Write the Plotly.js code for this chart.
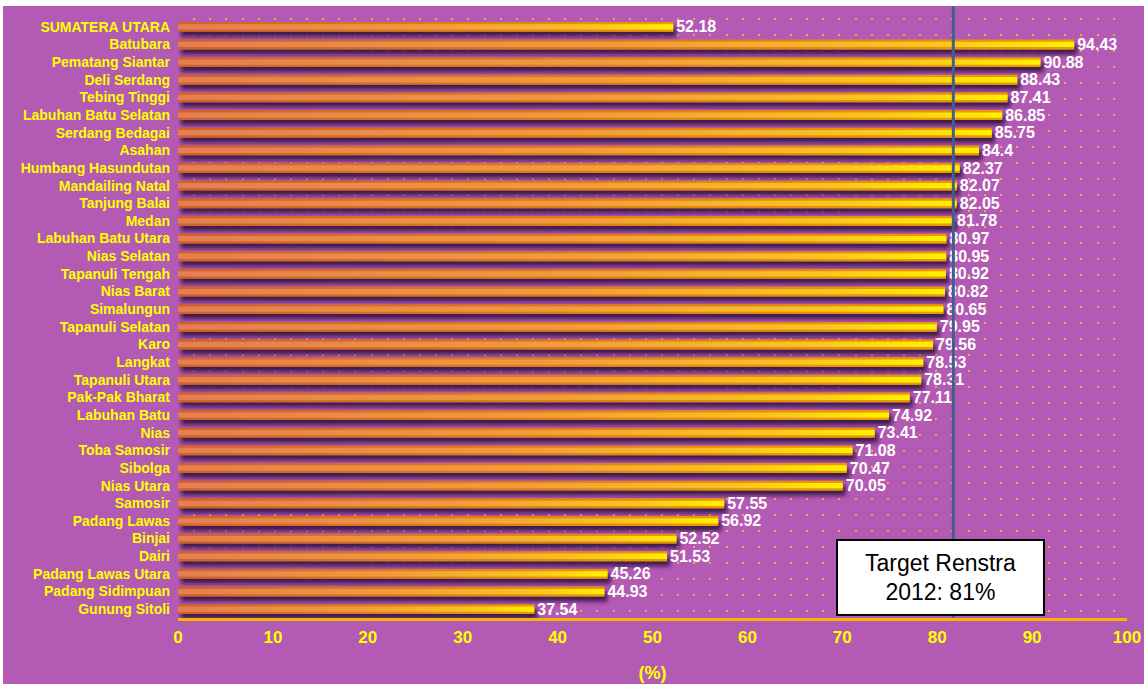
<!DOCTYPE html>
<html>
<head>
<meta charset="utf-8">
<script src="https://cdn.plot.ly/plotly-3.0.1.min.js"></script>
<style>
  html, body { margin:0; padding:0; background:#ffffff; }
  #chart { position:absolute; left:3px; top:6px; width:1141px; height:678px; }
</style>
</head>
<body>
<div id="chart"></div>
<script>
const categories = [
  "SUMATERA UTARA","Batubara","Pematang Siantar","Deli Serdang","Tebing Tinggi",
  "Labuhan Batu Selatan","Serdang Bedagai","Asahan","Humbang Hasundutan","Mandailing Natal",
  "Tanjung Balai","Medan","Labuhan Batu Utara","Nias Selatan","Tapanuli Tengah",
  "Nias Barat","Simalungun","Tapanuli Selatan","Karo","Langkat",
  "Tapanuli Utara","Pak-Pak Bharat","Labuhan Batu","Nias","Toba Samosir",
  "Sibolga","Nias Utara","Samosir","Padang Lawas","Binjai",
  "Dairi","Padang Lawas Utara","Padang Sidimpuan","Gunung Sitoli"
];
const values = [
  52.18, 94.43, 90.88, 88.43, 87.41,
  86.85, 85.75, 84.4, 82.37, 82.07,
  82.05, 81.78, 80.97, 80.95, 80.92,
  80.82, 80.65, 79.95, 79.56, 78.53,
  78.31, 77.11, 74.92, 73.41, 71.08,
  70.47, 70.05, 57.55, 56.92, 52.52,
  51.53, 45.26, 44.93, 37.54
];
const xTicks = [0,10,20,30,40,50,60,70,80,90,100];
const xTitle = "(%)";
const targetLine = 81.7;
const targetText = "Target Renstra<br>2012: 81%";
const targetLabelX = 80.35;

const purple = "#b35ab4";
const yellow = "#ffff00";
const fam = "Arial, Liberation Sans, sans-serif";

const data = [
  {
    type: "bar", orientation: "h",
    y: categories, x: values,
    width: 0.56, offset: -0.28,
    marker: { color: "#e07a30", line: { width: 0 } },
    text: values.map(String),
    textposition: "outside",
    constraintext: "none",
    cliponaxis: false,
    textfont: { color: "#ffffff", size: 16, family: fam, weight: "bold" },
    hoverinfo: "none"
  },
  {
    type: "bar", orientation: "h",
    y: categories, x: values,
    width: 0.30, offset: -0.15,
    marker: { color: "#f5b040", line: { width: 0 } },
    textposition: "none",
    hoverinfo: "none"
  }
];

const layout = {
  width: 1141, height: 678,
  margin: { l: 175, r: 17, t: 12, b: 66 },
  paper_bgcolor: purple,
  plot_bgcolor: purple,
  barmode: "overlay",
  showlegend: false,
  xaxis: {
    range: [0, 100],
    tickvals: xTicks,
    ticktext: xTicks.map(String),
    tickfont: { color: yellow, size: 17, family: fam, weight: "bold" },
    showline: true, linecolor: "#f7b400", linewidth: 3,
    showgrid: false, zeroline: false, ticks: "",
    ticklabelstandoff: 2,
    minor: { dtick: 1.7, tick0: 0, showgrid: true, gridcolor: "#eea850", gridwidth: 2, griddash: "2px,14px", ticks: "" },
    title: { text: xTitle, font: { color: yellow, size: 18, family: fam, weight: "bold" }, standoff: 20 }
  },
  yaxis: {
    type: "category",
    autorange: "reversed",
    tickmode: "array",
    tickvals: categories,
    ticktext: categories,
    tickfont: { color: yellow, size: 14, family: fam, weight: "bold" },
    showline: false, showgrid: false, zeroline: false, ticks: "",
    ticklabelstandoff: 7
  },
  shapes: [
    { type: "line", xref: "x", yref: "paper", x0: targetLine, x1: targetLine, y0: 0, y1: 1.02,
      line: { color: "#3e6189", width: 3 }, layer: "above" }
  ],
  annotations: [
    { xref: "x", yref: "paper", x: targetLabelX, y: 0.0667, xanchor: "center", yanchor: "middle",
      text: targetText, showarrow: false,
      font: { color: "#000000", size: 23, family: fam },
      bgcolor: "#ffffff", bordercolor: "#000000", borderwidth: 2, borderpad: 0,
      width: 205, height: 73 }
  ]
};

Plotly.newPlot("chart", data, layout, { staticPlot: true, displayModeBar: false }).then(function (gd) {
  const ns = "http://www.w3.org/2000/svg";
  const svg = gd.querySelector("svg.main-svg");
  let defs = svg.querySelector("defs");
  if (!defs) { defs = document.createElementNS(ns, "defs"); svg.insertBefore(defs, svg.firstChild); }
  function grad(id, stops) {
    const g = document.createElementNS(ns, "linearGradient");
    g.setAttribute("id", id);
    g.setAttribute("x1", "0"); g.setAttribute("y1", "0");
    g.setAttribute("x2", "1"); g.setAttribute("y2", "0");
    stops.forEach(function (s) {
      const st = document.createElementNS(ns, "stop");
      st.setAttribute("offset", s[0]);
      st.setAttribute("stop-color", s[1]);
      g.appendChild(st);
    });
    defs.appendChild(g);
  }
  grad("gOuter", [["0", "#d2612c"], ["0.6", "#e27f1c"], ["1", "#ee9a00"]]);
  grad("gInner", [["0", "#e37f52"], ["0.5", "#f09c3a"], ["0.85", "#f9c81c"], ["1", "#fff200"]]);
  const f = document.createElementNS(ns, "filter");
  f.setAttribute("id", "bShadow");
  f.setAttribute("x", "-0.05"); f.setAttribute("y", "-1");
  f.setAttribute("width", "1.2"); f.setAttribute("height", "3");
  const ds = document.createElementNS(ns, "feDropShadow");
  ds.setAttribute("dx", "3"); ds.setAttribute("dy", "5");
  ds.setAttribute("stdDeviation", "2.2");
  ds.setAttribute("flood-color", "#2a0838");
  ds.setAttribute("flood-opacity", "0.85");
  f.appendChild(ds);
  defs.appendChild(f);
  const traces = gd.querySelectorAll(".barlayer .trace");
  if (traces[0]) traces[0].querySelectorAll("path").forEach(function (p) {
    p.style.fill = "url(#gOuter)";
    p.setAttribute("filter", "url(#bShadow)");
  });
  if (traces[1]) traces[1].querySelectorAll("path").forEach(function (p) {
    p.style.fill = "url(#gInner)";
  });
});
</script>
</body>
</html>
